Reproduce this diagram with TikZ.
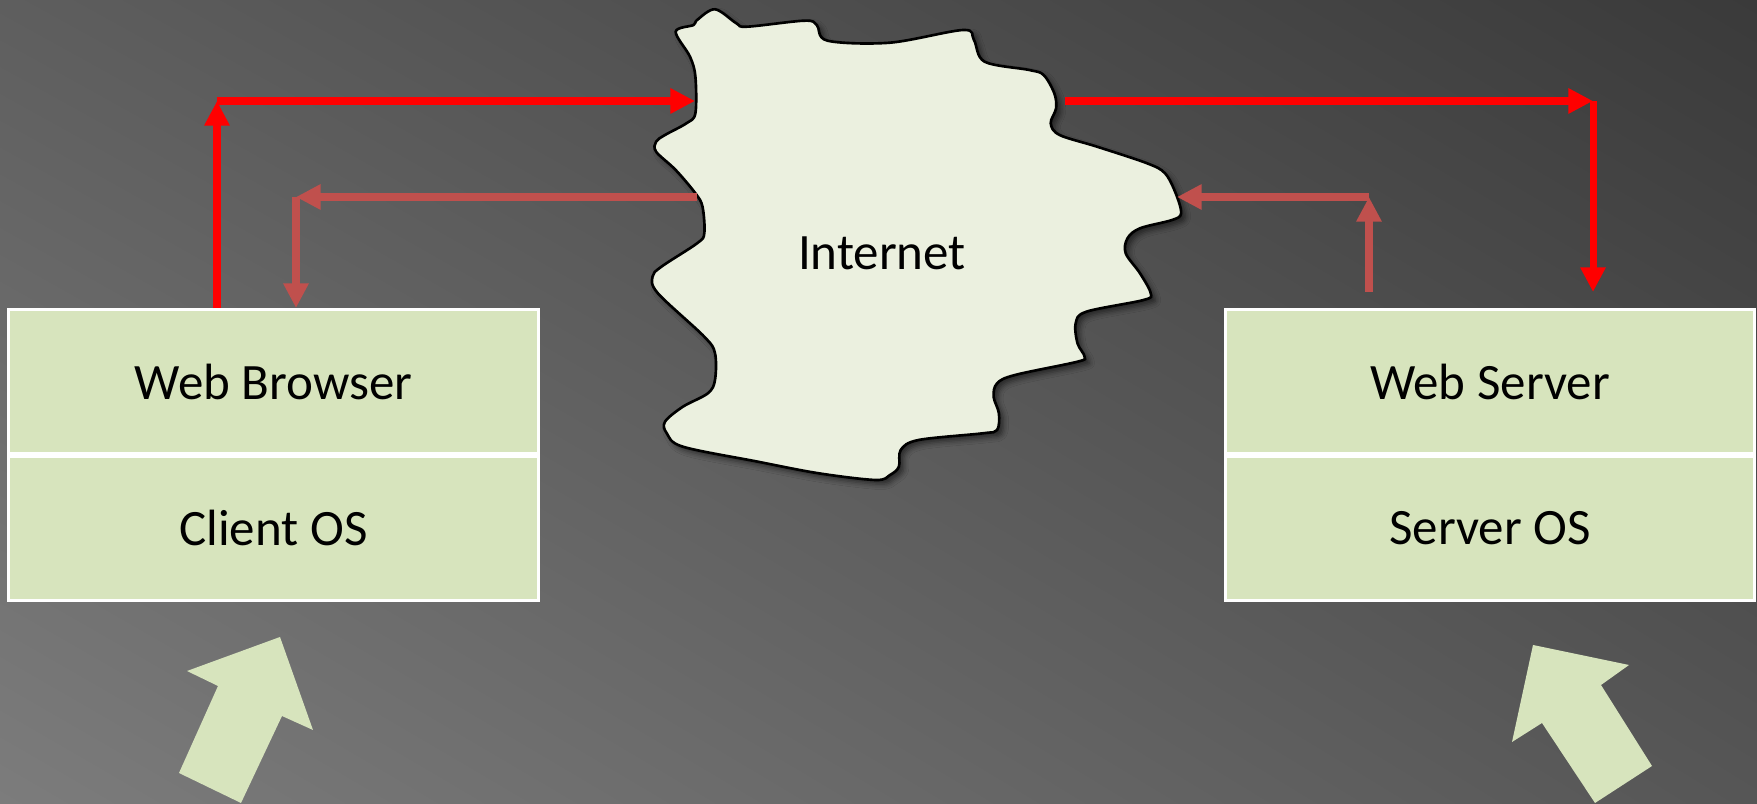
\documentclass[tikz,border=0pt]{standalone}
\usepackage{fontspec}
\setmainfont{Carlito}
\usetikzlibrary{arrows.meta,positioning,shadows.blur,shadings}

\definecolor{boxgreen}{HTML}{D7E4BD}
\definecolor{cloudfill}{HTML}{EBF0DF}
\definecolor{replyred}{HTML}{C0504D}
\definecolor{bgTL}{HTML}{5E5E5E}
\definecolor{bgTR}{HTML}{3A3A3A}
\definecolor{bgBL}{HTML}{7C7C7C}
\definecolor{bgBR}{HTML}{565656}

\begin{document}
\begin{tikzpicture}[x=0.01cm, y=-0.01cm,
        layer/.style={rectangle, draw=white, line width=0.8pt, fill=boxgreen,
            minimum width=5.29cm, minimum height=1.44cm, inner sep=0pt,
            font=\fontsize{14.5}{16}\selectfont},
        request/.style={draw=red, line width=2pt, -{Triangle[length=7pt,width=6.8pt]}},
        reply/.style={draw=replyred, line width=2pt, -{Triangle[length=7pt,width=6.8pt]}},
        pointer/.style={fill=boxgreen}]
    \useasboundingbox (0,0) rectangle (1757,804);
    \shade[upper left=bgTL, upper right=bgTR, lower left=bgBL, lower right=bgBR]
        (0,0) rectangle (1757,804);

    % the internet cloud
    \draw[fill=cloudfill, line width=0.75pt,
          blur shadow={shadow xshift=1.2pt, shadow yshift=-1.2pt, shadow blur radius=1.5pt, shadow opacity=55}]
        plot[smooth cycle, tension=0.55] coordinates {
        (675.7,31.7) (693.6,25) (697.1,20) (715,9.3) (736.4,23.3) (747.1,26.7)
        (804.3,20.7) (816.8,25) (827.5,40.7) (890,42.7) (963.2,30) (973.9,40)
        (984.6,61.7) (1029.3,70) (1043.6,75) (1054.3,93.3) (1056.1,108.3)
        (1050.7,123.3) (1059.6,135) (1097.1,146.7) (1147.1,163.3) (1165,173.3)
        (1175.7,193.3) (1181.1,213.3) (1172.1,220) (1140,228.3) (1127.5,238.3)
        (1125.7,253.3) (1140,273.3) (1150.7,293.3) (1143.6,300) (1086.4,311.7)
        (1075.7,323.3) (1077.5,343.3) (1084.6,356.7) (1077.5,361.7) (1015,375)
        (997.1,383.3) (993.6,396.7) (998.9,413.3) (997.1,430) (982.9,433.3)
        (918.6,440) (900.7,450) (898.9,466.7) (890,475) (875.7,480)
        (818.6,473.3) (757.9,461.7) (682.9,446.7) (666.8,433.3) (665,421.7)
        (682.9,406.7) (707.9,393.3) (715,380) (715,353.3) (704.3,336.7)
        (657.9,293.3) (652.5,276.7) (661.4,266.7) (697.1,243.3) (704.3,233.3)
        (702.5,206.7) (695.4,193.3) (675.7,170) (656.1,151.7) (656.1,141.7)
        (665,135) (686.4,123.3) (695.4,113.3) (695.4,76.7) (690,56.7)};
    \node[font=\fontsize{14.5}{16}\selectfont] (net) at (882,253) {Internet};

    % client and server stacks
    \node[layer] (browser) at (273.5,381.5) {Web Browser};
    \node[layer, below=0pt of browser] (client) {Client OS};
    \node[layer] (server) at (1490,381.5) {Web Server};
    \node[layer, below=0pt of server] (serveros) {Server OS};

    % corners and cloud edge points
    \coordinate (upL) at (217,101);
    \coordinate (netW) at (695,101);
    \coordinate (netE) at (1065,101);
    \coordinate (upR) at (1593,101);
    \coordinate (srvIn) at (1593,292);
    \coordinate (backL) at (296,197);
    \coordinate (netSW) at (697,197);
    \coordinate (netSE) at (1177,197);
    \coordinate (backR) at (1369,197);
    \coordinate (srvOut) at (1369,292);

    % request path
    \draw[request] (browser.north -| upL) -- (upL);
    \draw[request] (upL) -- (netW);
    \draw[request] (netE) -- (upR);
    \draw[request] (upR) -- (srvIn);

    % response path
    \draw[reply] (srvOut) -- (backR);
    \draw[reply] (backR) -- (netSE);
    \draw[reply] (netSW) -- (backL);
    \draw[reply] (backL) -- (browser.north -| backL);

    % big arrows under the stacks
    \fill[pointer] (280,637) -- (187,671) -- (218,686) -- (179,773) -- (241,803)
        -- (282,716) -- (313,730) -- cycle;
    \fill[pointer] (1533,645) -- (1629,665) -- (1601,685) -- (1652,766) -- (1595,803)
        -- (1542,723) -- (1512,742) -- cycle;
\end{tikzpicture}
\end{document}
